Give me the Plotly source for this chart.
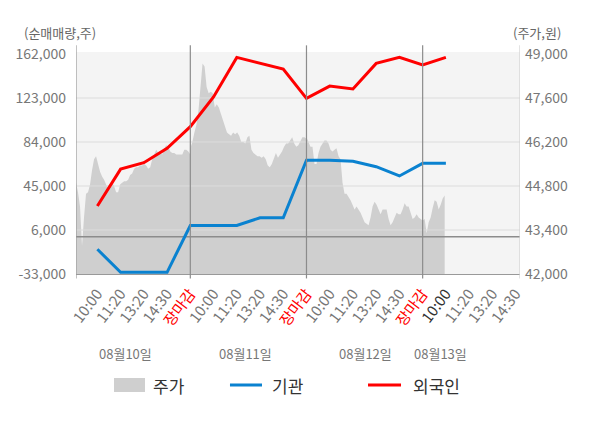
import numpy as np
import plotly.graph_objects as go

# x축 시간 라벨 (4일치)
time_labels = ['10:00', '11:20', '13:20', '14:30', '장마감'] * 3 + ['10:00', '11:20', '13:20', '14:30']
date_labels = ['08월10일', '08월11일', '08월12일', '08월13일']
date_label_pos = [1.19, 6.36, 11.52, 14.75]

# 순매매량 (주)
inst = [-11100, -31500, -31500, -31500, 10000, 10000, 10000, 16900, 16900,
        67800, 67900, 66900, 62100, 53900, 65100, 65100]
foreign = [27300, 60000, 65700, 78400, 97600, 124000, 159000, 153700, 148700,
           122700, 133600, 131000, 153700, 159000, 152300, 159000]

# 주가 (원) - 장중 흐름
price_day1 = [44900, 44600, 44150, 42900, 43800, 44550, 44600, 44850, 45300, 45650,
              45750, 45500, 45250, 45100, 45000, 44850, 44700, 44800, 44900, 44800,
              44600, 44600, 44850, 44900, 44950, 44950, 45000, 45150, 45200, 45350,
              45400, 45400, 45450, 45450, 45500, 45450, 45350, 45400, 45650, 45800,
              45950, 45850, 45850, 45800, 46000, 46100, 46050, 45900, 45850, 45850,
              45800, 45800, 45800, 45800, 45950, 45950, 45900, 45800]
price_day2 = [46000, 46200, 46500, 46750, 47200, 48050, 48700, 48600, 47950, 47750,
              47800, 47750, 47300, 47400, 47300, 47100, 46900, 46700, 46500, 46450,
              46400, 46500, 46450, 46500, 46400, 46200, 46200, 46150, 46350, 46400,
              45950, 45850, 45800, 45750, 45750, 45700, 45750, 45650, 45450, 45400,
              45500, 45650, 45850, 45700, 45800, 45900, 46050, 46150, 46150, 46250,
              46350, 46150, 46050, 46100, 46250, 46350, 46350, 46300]
price_day3 = [46350, 46200, 46050, 46050, 45500, 45500, 45850, 46050, 46150, 46250,
              46250, 46150, 45950, 45900, 45950, 46000, 45750, 45650, 44900, 44550,
              44550, 44450, 44350, 44200, 44050, 44150, 44050, 43950, 43800, 43650,
              43600, 43550, 43800, 44150, 44300, 44200, 44050, 43900, 44050, 44050,
              44050, 43750, 43550, 43650, 43800, 43950, 43900, 43900, 44050, 44250,
              44150, 44150, 43950, 43750, 43800, 43900, 43800, 43750, 43700]
price_day4 = [43700, 43750, 43300, 43650, 43800, 44100, 44350, 44300, 44050, 44200,
              44400, 44500]

left_ticks = [-33000, 6000, 45000, 84000, 123000, 162000]
right_ticks = [42000, 43400, 44800, 46200, 47600, 49000]

x_left, x_right = -0.92, 18.19
close_idx = [i for i, t in enumerate(time_labels) if t == '장마감']

step = 5 / (len(price_day3) - 1)
px_x = list(np.linspace(x_left, close_idx[0], len(price_day1)))
px_x += list(np.linspace(close_idx[0], close_idx[1], len(price_day2)))
px_x += list(np.linspace(close_idx[1], close_idx[2], len(price_day3)))
px_x += list(close_idx[2] + step * np.arange(len(price_day4)))
px_y = price_day1 + price_day2 + price_day3 + price_day4

FONT = 'Noto Sans CJK KR'
C_AREA, C_INST, C_FOR = '#cfcfcf', '#0a82d0', '#ff0000'

fig = go.Figure()
# 주가 영역 (y: 오른쪽 축)
fig.add_trace(go.Scatter(x=px_x, y=px_y, yaxis='y', mode='lines', hoverinfo='skip',
                         line=dict(width=0, color=C_AREA), fill='tozeroy', fillcolor=C_AREA))
# 가로 격자선 - 주가 영역 위에 보이도록 trace로
gx, gy = [], []
for v in right_ticks[1:-1]:
    gx += [x_left, x_right, None]
    gy += [v, v, None]
fig.add_trace(go.Scatter(x=gx, y=gy, yaxis='y', mode='lines', hoverinfo='skip',
                         line=dict(color='#dcdcdc', width=1)))
# 0 기준선 (y2: 왼쪽 축)
fig.add_trace(go.Scatter(x=[x_left, x_right], y=[0, 0], yaxis='y2', mode='lines', hoverinfo='skip',
                         line=dict(color='#8c8c8c', width=1.5)))
fig.add_trace(go.Scatter(x=list(range(len(inst))), y=inst, name='기관', yaxis='y2', mode='lines',
                         line=dict(color=C_INST, width=3)))
fig.add_trace(go.Scatter(x=list(range(len(foreign))), y=foreign, name='외국인', yaxis='y2', mode='lines',
                         line=dict(color=C_FOR, width=3)))

ticktext = []
for i, t in enumerate(time_labels):
    if t == '장마감':
        ticktext.append('<span style="color:#ff0000">%s</span>' % t)
    elif i == 15:
        ticktext.append('<span style="color:#333">%s</span>' % t)
    else:
        ticktext.append(t)

shapes = []
for c in close_idx:
    shapes.append(dict(type='line', xref='x', yref='paper', x0=c, x1=c, y0=-0.02, y1=1.03,
                       line=dict(color='#8c8c8c', width=1.2), layer='above'))
shapes.append(dict(type='line', xref='x', yref='paper', x0=x_left, x1=x_left, y0=-0.02, y1=1.03,
                   line=dict(color='#999', width=1.2), layer='above'))
shapes.append(dict(type='line', xref='x', yref='paper', x0=x_right, x1=x_right, y0=-0.02, y1=1.03,
                   line=dict(color='#d0d0d0', width=1.2), layer='above'))

# 범례 (직접 그림)
shapes.append(dict(type='rect', xref='paper', yref='paper', x0=0.0856, x1=0.1554, y0=-0.5315, y1=-0.4685,
                   fillcolor=C_AREA, line=dict(width=0)))
shapes.append(dict(type='line', xref='paper', yref='paper', x0=0.3468, x1=0.4189, y0=-0.5, y1=-0.5,
                   line=dict(color=C_INST, width=3)))
shapes.append(dict(type='line', xref='paper', yref='paper', x0=0.6577, x1=0.7320, y0=-0.5, y1=-0.5,
                   line=dict(color=C_FOR, width=3)))

annotations = [dict(x=p, y=-0.356, xref='x', yref='paper', text=d, showarrow=False,
                    font=dict(size=13, color='#777'), xanchor='center', yanchor='middle')
               for p, d in zip(date_label_pos, date_labels)]
for xp, name in [(0.168, '주가'), (0.438, '기관'), (0.754, '외국인')]:
    annotations.append(dict(x=xp, y=-0.5, xref='paper', yref='paper', text=name, showarrow=False,
                            xanchor='left', yanchor='middle', font=dict(size=17, color='#333')))
annotations.append(dict(x=-0.121, y=1.086, xref='paper', yref='paper', text='(순매매량,주)',
                        showarrow=False, xanchor='left', yanchor='middle',
                        font=dict(size=13, color='#666')))
annotations.append(dict(x=1.096, y=1.086, xref='paper', yref='paper', text='(주가,원)',
                        showarrow=False, xanchor='right', yanchor='middle',
                        font=dict(size=13, color='#666')))

fig.update_layout(
    width=592, height=420,
    margin=dict(l=68, r=80, t=44, b=154, autoexpand=False),
    paper_bgcolor='white', plot_bgcolor='#f4f4f4',
    font=dict(family=FONT, color='#666'),
    showlegend=False,
    xaxis=dict(range=[x_left, x_right], tickmode='array', tickvals=list(range(len(time_labels))),
               ticktext=ticktext, tickangle=-53, tickfont=dict(size=15, color='#777'),
               showgrid=False, zeroline=False, showline=True, linecolor='#999', linewidth=1.2,
               ticks='', ticklabelstandoff=4, automargin=False),
    yaxis=dict(range=[42000, 49064], tickvals=right_ticks,
               ticktext=['{:,}'.format(v) for v in right_ticks], side='right',
               tickfont=dict(size=14, color='#777'), showgrid=False, zeroline=False,
               showline=False, ticks='', ticklabelstandoff=4, automargin=False),
    yaxis2=dict(range=[-33000, 163800], tickvals=left_ticks, overlaying='y', side='left',
                ticktext=['{:,}'.format(v) for v in left_ticks],
                tickfont=dict(size=14, color='#777'), showgrid=False, zeroline=False,
                showline=False, ticks='', ticklabelstandoff=9, automargin=False),
    shapes=shapes,
    annotations=annotations,
)

fig.write_html('out.html')
